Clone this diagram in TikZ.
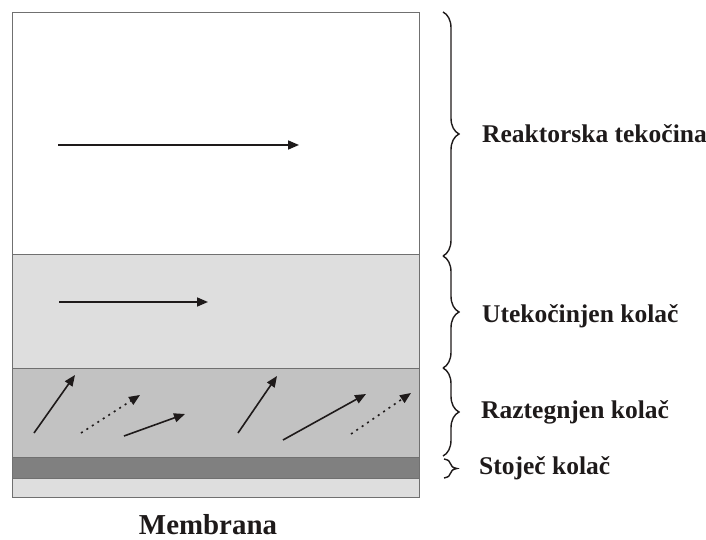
\documentclass[tikz,border=0pt]{standalone}
\usepackage{fontspec}
\setmainfont{Liberation Serif}
\usetikzlibrary{arrows.meta,decorations.pathreplacing}
\definecolor{lg}{HTML}{DEDEDE}
\definecolor{mg}{HTML}{C2C2C2}
\definecolor{dg}{HTML}{808080}
\definecolor{edge}{HTML}{707070}
\definecolor{ink}{HTML}{1E1A1A}
\begin{document}
\begin{tikzpicture}[x=1bp,y=-1bp,
  flow/.style={line width=1.6bp,draw=ink,-{Triangle[length=11bp,width=9bp]}},
  dflow/.style={flow,dash pattern=on 2bp off 4.5bp},
  layer/.style={draw=edge,line width=1bp},
  lbl/.style={font=\bfseries\fontsize{25.6}{30}\selectfont,anchor=base west,inner sep=0pt,text=ink},
  brc/.style={draw=ink,decorate,decoration={brace,amplitude=16bp},line width=1.4bp}]
\useasboundingbox (0,0) rectangle (706,540);
% layers
\path[layer,fill=white] (12,13) rectangle (419,255);
\path[layer,fill=lg] (12,255) rectangle (419,368);
\path[layer,fill=mg] (12,368) rectangle (419,457);
\path[layer,fill=dg] (12,457) rectangle (419,478);
\path[layer,fill=lg] (12,478) rectangle (419,497);
% flow arrows
\draw[flow] (58,145) -- (299,145);
\draw[flow] (59,302) -- (208,302);
\draw[flow] (34,433) -- (75,375);
\draw[dflow] (81,433) -- (140,395);
\draw[flow] (124,436) -- (185,414);
\draw[flow] (238,433) -- (277,376);
\draw[flow] (283,440) -- (366,394);
\draw[dflow] (351,434) -- (411,393);
% braces
\draw[brc] (443,12) -- (443,256);
\draw[brc] (443,256) -- (443,368);
\draw[brc] (443,368) -- (443,456);
\draw[brc,decoration={brace,amplitude=13bp}] (444,459) -- (444,478);
% labels
\node[lbl] (rt) at (482,143) {Reaktorska tekočina};
\node[lbl] (uk) at (482,322) {Utekočinjen kolač};
\node[lbl] (rk) at (481,418) {Raztegnjen kolač};
\node[lbl] (sk) at (479,474) {Stoječ kolač};
\node[font=\bfseries\fontsize{29}{32}\selectfont,anchor=base,inner sep=0pt,text depth=0pt,text=ink] (mb) at (208,534) {Membrana};
\end{tikzpicture}
\end{document}
